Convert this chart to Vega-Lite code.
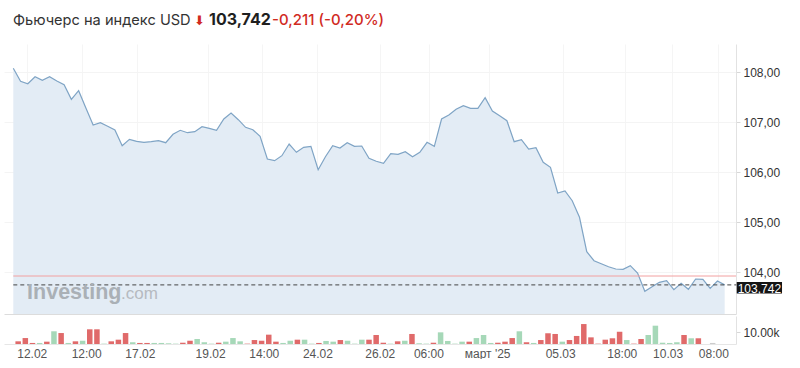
{
  "$schema": "https://vega.github.io/schema/vega-lite/v6.json",
  "padding": {"left": 4, "top": 12, "right": 0, "bottom": 0},
  "background": "white",
  "config": {
    "view": {"stroke": null},
    "font": "Liberation Sans",
    "title": {"anchor": "start", "frame": "group", "baseline": "alphabetic", "offset": 0}
  },
  "datasets": {
    "series": [
      {"i":0,"p":108.074,"v":2300,"d":"down"},{"i":1,"p":107.814,"v":5100,"d":"down"},{"i":2,"p":107.766,"v":900,"d":"down"},{"i":3,"p":107.906,"v":900,"d":"up"},{"i":4,"p":107.834,"v":2000,"d":"down"},{"i":5,"p":107.906,"v":10900,"d":"up"},{"i":6,"p":107.82,"v":9400,"d":"down"},{"i":7,"p":107.746,"v":900,"d":"up"},{"i":8,"p":107.454,"v":2300,"d":"down"},{"i":9,"p":107.626,"v":2800,"d":"up"},
      {"i":10,"p":107.28,"v":12600,"d":"down"},{"i":11,"p":106.94,"v":12600,"d":"down"},{"i":12,"p":106.986,"v":300,"d":"up"},{"i":13,"p":106.914,"v":2300,"d":"down"},{"i":14,"p":106.84,"v":3700,"d":"down"},{"i":15,"p":106.526,"v":9400,"d":"down"},{"i":16,"p":106.654,"v":1500,"d":"up"},{"i":17,"p":106.614,"v":900,"d":"down"},{"i":18,"p":106.594,"v":900,"d":"down"},{"i":19,"p":106.606,"v":900,"d":"up"},
      {"i":20,"p":106.626,"v":900,"d":"up"},{"i":21,"p":106.586,"v":600,"d":"up"},{"i":22,"p":106.754,"v":300,"d":"up"},{"i":23,"p":106.834,"v":1100,"d":"down"},{"i":24,"p":106.786,"v":2800,"d":"down"},{"i":25,"p":106.806,"v":4300,"d":"up"},{"i":26,"p":106.906,"v":1500,"d":"up"},{"i":27,"p":106.874,"v":300,"d":"up"},{"i":28,"p":106.834,"v":1100,"d":"down"},{"i":29,"p":107.06,"v":2000,"d":"up"},
      {"i":30,"p":107.18,"v":5100,"d":"up"},{"i":31,"p":107.046,"v":2300,"d":"up"},{"i":32,"p":106.894,"v":300,"d":"down"},{"i":33,"p":106.846,"v":3400,"d":"down"},{"i":34,"p":106.714,"v":2800,"d":"down"},{"i":35,"p":106.26,"v":8000,"d":"down"},{"i":36,"p":106.226,"v":2000,"d":"down"},{"i":37,"p":106.326,"v":900,"d":"up"},{"i":38,"p":106.56,"v":2800,"d":"up"},{"i":39,"p":106.394,"v":3700,"d":"down"},
      {"i":40,"p":106.494,"v":3700,"d":"up"},{"i":41,"p":106.514,"v":300,"d":"up"},{"i":42,"p":106.046,"v":900,"d":"down"},{"i":43,"p":106.306,"v":2600,"d":"up"},{"i":44,"p":106.526,"v":2000,"d":"up"},{"i":45,"p":106.48,"v":3400,"d":"down"},{"i":46,"p":106.586,"v":2800,"d":"up"},{"i":47,"p":106.514,"v":300,"d":"up"},{"i":48,"p":106.52,"v":3700,"d":"up"},{"i":49,"p":106.274,"v":3700,"d":"down"},
      {"i":50,"p":106.214,"v":7700,"d":"down"},{"i":51,"p":106.174,"v":1100,"d":"down"},{"i":52,"p":106.366,"v":300,"d":"up"},{"i":53,"p":106.354,"v":2300,"d":"down"},{"i":54,"p":106.406,"v":2800,"d":"up"},{"i":55,"p":106.306,"v":8600,"d":"down"},{"i":56,"p":106.394,"v":600,"d":"up"},{"i":57,"p":106.594,"v":300,"d":"up"},{"i":58,"p":106.514,"v":1100,"d":"down"},{"i":59,"p":107.06,"v":10000,"d":"up"},
      {"i":60,"p":107.14,"v":2600,"d":"up"},{"i":61,"p":107.254,"v":300,"d":"up"},{"i":62,"p":107.326,"v":2000,"d":"up"},{"i":63,"p":107.274,"v":2000,"d":"down"},{"i":64,"p":107.274,"v":5100,"d":"up"},{"i":65,"p":107.486,"v":7700,"d":"up"},{"i":66,"p":107.22,"v":900,"d":"up"},{"i":67,"p":107.126,"v":1100,"d":"down"},{"i":68,"p":107.026,"v":2000,"d":"down"},{"i":69,"p":106.606,"v":5100,"d":"down"},
      {"i":70,"p":106.646,"v":10900,"d":"up"},{"i":71,"p":106.46,"v":1500,"d":"down"},{"i":72,"p":106.486,"v":900,"d":"up"},{"i":73,"p":106.194,"v":3400,"d":"down"},{"i":74,"p":106.094,"v":9200,"d":"down"},{"i":75,"p":105.58,"v":8600,"d":"down"},{"i":76,"p":105.62,"v":2000,"d":"up"},{"i":77,"p":105.426,"v":3400,"d":"down"},{"i":78,"p":105.094,"v":6900,"d":"down"},{"i":79,"p":104.406,"v":17100,"d":"down"},
      {"i":80,"p":104.226,"v":5700,"d":"down"},{"i":81,"p":104.166,"v":300,"d":"down"},{"i":82,"p":104.106,"v":3700,"d":"down"},{"i":83,"p":104.06,"v":4900,"d":"down"},{"i":84,"p":104.054,"v":10500,"d":"down"},{"i":85,"p":104.126,"v":3400,"d":"up"},{"i":86,"p":103.98,"v":300,"d":"down"},{"i":87,"p":103.614,"v":4300,"d":"down"},{"i":88,"p":103.706,"v":7700,"d":"up"},{"i":89,"p":103.794,"v":15700,"d":"up"},
      {"i":90,"p":103.826,"v":1100,"d":"up"},{"i":91,"p":103.646,"v":900,"d":"up"},{"i":92,"p":103.774,"v":1500,"d":"up"},{"i":93,"p":103.654,"v":7700,"d":"down"},{"i":94,"p":103.86,"v":4900,"d":"up"},{"i":95,"p":103.854,"v":4900,"d":"down"},{"i":96,"p":103.674,"v":0,"d":"up"},{"i":97,"p":103.82,"v":900,"d":"flat"},{"i":98,"p":103.742,"v":0,"d":"flat"}
    ],
    "last": [{"label": "103,742", "value": 103.742}],
    "prev": [{"value": 103.92}],
    "brand": [{"a": "Investing", "b": ".com"}]
  },
  "vconcat": [
    {
      "hconcat": [
        {"width": 187, "height": 10, "data": {"values": []}, "mark": "point",
         "title": {"text": "Фьючерс на индекс USD", "dx": 9, "fontSize": 14.6, "fontWeight": 400, "color": "#333333", "font": "Inter"}},
        {"width": 15, "height": 10, "data": {"values": []}, "mark": "point",
         "title": {"text": "⬇", "dx": 3, "fontSize": 13, "fontWeight": 400, "color": "#d12b1f", "font": "DejaVu Sans"}},
        {"width": 63, "height": 10, "data": {"values": []}, "mark": "point",
         "title": {"text": "103,742", "dx": 3, "fontSize": 16, "fontWeight": "bold", "color": "#1f1f1f", "font": "Inter"}},
        {"width": 120, "height": 10, "data": {"values": []}, "mark": "point",
         "title": {"text": "-0,211 (-0,20%)", "dx": 3, "fontSize": 15, "fontWeight": 500, "color": "#d12b1f", "font": "Inter"}}
      ],
      "spacing": 0,
      "bounds": "flush"
    },
    {
      "width": 732,
      "height": 270,
      "data": {"name": "series"},
      "layer": [
        {
          "mark": {"type": "area", "color": "#e3ecf5", "opacity": 1},
          "encoding": {
            "x": {"field": "i", "type": "quantitative",
                  "scale": {"domain": [-1.28, 99.56], "nice": false, "zero": false},
                  "axis": {"orient": "bottom", "labels": false, "ticks": false, "title": null, "domain": true, "domainColor": "#dcdcdc",
                           "grid": true, "gridColor": "#f5f5f5",
                           "values": [1.9, 9.5, 17, 26.8, 34.3, 41.8, 50.5, 57.3, 65.5, 75.7, 84.3, 90.7, 97.1]}},
            "y": {"field": "p", "type": "quantitative",
                  "scale": {"domain": [103.16, 108.56], "nice": false, "zero": false},
                  "axis": {"orient": "right", "title": null, "values": [104, 105, 106, 107, 108],
                           "labelExpr": "replace(format(datum.value,'.2f'),'.',',')",
                           "grid": true, "gridColor": "#f4f4f4", "domainColor": "#e2e2e2", "tickColor": "#d8d8d8", "tickSize": 4,
                           "labelPadding": 3, "labelColor": "#333333", "labelFontSize": 12, "labelFont": "Liberation Sans"}},
            "y2": {"datum": 103.16}
          }
        },
        {
          "mark": {"type": "line", "color": "#7fa4c5", "strokeWidth": 1.2},
          "encoding": {
            "x": {"field": "i", "type": "quantitative"},
            "y": {"field": "p", "type": "quantitative"}
          }
        },
        {
          "data": {"name": "prev"},
          "mark": {"type": "rule", "color": "#f2a0a0", "strokeWidth": 1},
          "encoding": {
            "y": {"field": "value", "type": "quantitative"},
            "x": {"datum": 0, "type": "quantitative"},
            "x2": {"datum": 99.56}
          }
        },
        {
          "data": {"name": "last"},
          "mark": {"type": "rule", "color": "#444444", "strokeWidth": 1, "strokeDash": [4, 3]},
          "encoding": {
            "y": {"field": "value", "type": "quantitative"},
            "x": {"datum": 0, "type": "quantitative"},
            "x2": {"datum": 99.6}
          }
        },
        {
          "data": {"name": "brand"},
          "mark": {"type": "text", "align": "left", "baseline": "alphabetic", "fontSize": 21.5, "fontWeight": "bold", "color": "#aab0b6", "font": "Liberation Sans"},
          "encoding": {
            "text": {"field": "a"},
            "x": {"datum": 1.9, "type": "quantitative"},
            "y": {"datum": 103.46, "type": "quantitative"}
          }
        },
        {
          "data": {"name": "brand"},
          "mark": {"type": "text", "align": "left", "baseline": "alphabetic", "fontSize": 17, "fontWeight": "normal", "color": "#b6bac0", "font": "Liberation Sans"},
          "encoding": {
            "text": {"field": "b"},
            "x": {"datum": 14.85, "type": "quantitative"},
            "y": {"datum": 103.46, "type": "quantitative"}
          }
        },
        {
          "data": {"name": "last"},
          "mark": {"type": "rect", "color": "#151515"},
          "encoding": {
            "x": {"datum": 99.66, "type": "quantitative"},
            "x2": {"datum": 105.9},
            "y": {"datum": 103.8, "type": "quantitative"},
            "y2": {"datum": 103.57}
          }
        },
        {
          "data": {"name": "last"},
          "mark": {"type": "text", "align": "center", "baseline": "middle", "fontSize": 12, "color": "white", "font": "Liberation Sans", "dy": 1},
          "encoding": {
            "text": {"field": "label"},
            "x": {"datum": 102.78, "type": "quantitative"},
            "y": {"datum": 103.685, "type": "quantitative"}
          }
        }
      ]
    },
    {
      "width": 732,
      "height": 28,
      "data": {"name": "series"},
      "mark": {"type": "bar", "size": 5.5},
      "encoding": {
        "x": {"field": "i", "type": "quantitative",
              "scale": {"domain": [-1.28, 99.56], "nice": false, "zero": false},
              "axis": {"orient": "bottom", "title": null, "ticks": false, "grid": false, "domainColor": "#e6e6e6",
                       "values": [1.9, 9.5, 17, 26.8, 34.3, 41.8, 50.5, 57.3, 65.5, 75.7, 84.3, 90.7, 97.1],
                       "labelExpr": "({'1.9':'12.02','9.5':'12:00','17':'17.02','26.8':'19.02','34.3':'14:00','41.8':'24.02','50.5':'26.02','57.3':'06:00','65.5':\"март '25\",'75.7':'05.03','84.3':'18:00','90.7':'10.03','97.1':'08:00'})[datum.value]",
                       "labelColor": "#555555", "labelFontSize": 12, "labelPadding": 4, "labelFont": "Liberation Sans"}},
        "y": {"field": "v", "type": "quantitative",
              "scale": {"domain": [0, 24000], "nice": false},
              "axis": {"orient": "right", "title": null, "values": [10000], "grid": false,
                       "labelExpr": "format(datum.value/1000,'.2f')+'k'",
                       "domainColor": "#e2e2e2", "tickColor": "#d8d8d8", "tickSize": 4, "labelPadding": 3,
                       "labelColor": "#333333", "labelFontSize": 12, "labelFont": "Liberation Sans"}},
        "color": {"field": "d", "type": "nominal", "legend": null,
                  "scale": {"domain": ["down", "up", "flat"], "range": ["#e06a6a", "#a6d8b8", "#cccccc"]}}
      }
    }
  ],
  "spacing": 2
}
